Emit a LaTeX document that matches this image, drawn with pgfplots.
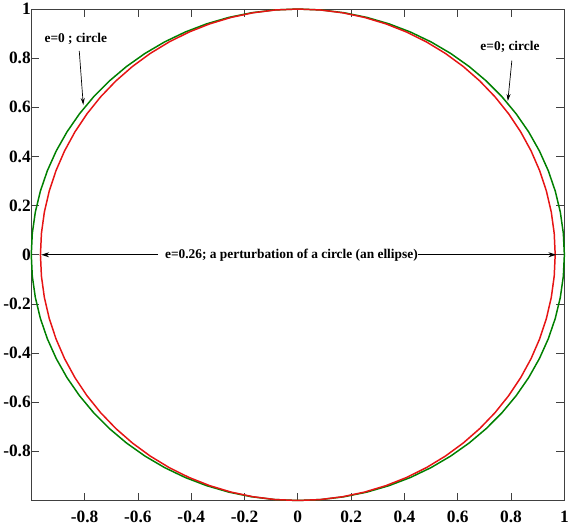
\documentclass[border=0pt]{standalone}
\usepackage{fontspec}
\setmainfont{Liberation Serif}
\usepackage{pgfplots}
\usepackage{pgfplotstable}
\pgfplotsset{compat=1.18}
\usetikzlibrary{arrows.meta}

% circle (cx,cy) and ellipse x (ex), e=0.26, every 5 degrees
\pgfplotstableread{
cx cy ex
1 0 0.9656
0.99619 0.08716 0.96192
0.98481 0.17365 0.95093
0.96593 0.25882 0.93270
0.93969 0.34202 0.90737
0.90631 0.42262 0.87513
0.86603 0.5 0.83624
0.81915 0.57358 0.79097
0.76604 0.64279 0.73969
0.70711 0.70711 0.68279
0.64279 0.76604 0.62068
0.57358 0.81915 0.55385
0.5 0.86603 0.4828
0.42262 0.90631 0.40808
0.34202 0.93969 0.33025
0.25882 0.96593 0.24992
0.17365 0.98481 0.16768
0.08716 0.99619 0.08416
0 1 0
-0.08716 0.99619 -0.08416
-0.17365 0.98481 -0.16768
-0.25882 0.96593 -0.24992
-0.34202 0.93969 -0.33025
-0.42262 0.90631 -0.40808
-0.5 0.86603 -0.4828
-0.57358 0.81915 -0.55385
-0.64279 0.76604 -0.62068
-0.70711 0.70711 -0.68279
-0.76604 0.64279 -0.73969
-0.81915 0.57358 -0.79097
-0.86603 0.5 -0.83624
-0.90631 0.42262 -0.87513
-0.93969 0.34202 -0.90737
-0.96593 0.25882 -0.93270
-0.98481 0.17365 -0.95093
-0.99619 0.08716 -0.96192
-1 0 -0.9656
-0.99619 -0.08716 -0.96192
-0.98481 -0.17365 -0.95093
-0.96593 -0.25882 -0.93270
-0.93969 -0.34202 -0.90737
-0.90631 -0.42262 -0.87513
-0.86603 -0.5 -0.83624
-0.81915 -0.57358 -0.79097
-0.76604 -0.64279 -0.73969
-0.70711 -0.70711 -0.68279
-0.64279 -0.76604 -0.62068
-0.57358 -0.81915 -0.55385
-0.5 -0.86603 -0.4828
-0.42262 -0.90631 -0.40808
-0.34202 -0.93969 -0.33025
-0.25882 -0.96593 -0.24992
-0.17365 -0.98481 -0.16768
-0.08716 -0.99619 -0.08416
0 -1 0
0.08716 -0.99619 0.08416
0.17365 -0.98481 0.16768
0.25882 -0.96593 0.24992
0.34202 -0.93969 0.33025
0.42262 -0.90631 0.40808
0.5 -0.86603 0.4828
0.57358 -0.81915 0.55385
0.64279 -0.76604 0.62068
0.70711 -0.70711 0.68279
0.76604 -0.64279 0.73969
0.81915 -0.57358 0.79097
0.86603 -0.5 0.83624
0.90631 -0.42262 0.87513
0.93969 -0.34202 0.90737
0.96593 -0.25882 0.93270
0.98481 -0.17365 0.95093
0.99619 -0.08716 0.96192
1 0 0.9656
}\orbit

\definecolor{mgreen}{RGB}{0,128,0}
\definecolor{mred}{RGB}{230,20,20}

\begin{document}
\begin{tikzpicture}
\begin{axis}[
    scale only axis,
    width=538pt,
    height=496pt,
    xmin=-1, xmax=1,
    ymin=-1, ymax=1,
    xtick={-0.8,-0.6,...,1},
    ytick={-0.8,-0.6,...,1},
    tick align=inside,
    major tick length=8pt,
    axis line style={black!75, line width=0.9pt},
    every tick/.style={black!75, line width=0.8pt},
    /pgf/number format/assume math mode=true,
    ticklabel style={font=\fontsize{17.5}{20}\selectfont\bfseries},
    xticklabel style={yshift=-7pt},
    yticklabel style={xshift=3pt},
    clip=false,
]
\addplot[mgreen, line width=1.5pt] table[x=cx, y=cy] {\orbit};
\addplot[mred, line width=1.5pt] table[x=ex, y=cy] {\orbit};

\node[font=\fontsize{13.5}{15}\selectfont\bfseries] at (axis cs:-0.833,0.877) {e=0 ; circle};
\draw[-{Stealth[length=7pt,width=4pt]}, line width=0.7pt] (axis cs:-0.82,0.83) -- (axis cs:-0.805,0.61);

\node[font=\fontsize{13.5}{15}\selectfont\bfseries] at (axis cs:0.796,0.845) {e=0; circle};
\draw[-{Stealth[length=7pt,width=4pt]}, line width=0.7pt] (axis cs:0.803,0.79) -- (axis cs:0.788,0.626);

\node[font=\fontsize{13.5}{15}\selectfont\bfseries] at (axis cs:-0.024,0) {e=0.26; a perturbation of a circle (an ellipse)};
\draw[-{Stealth[length=8pt,width=5pt]}, line width=1.2pt] (axis cs:-0.524,0) -- (axis cs:-0.963,0);
\draw[-{Stealth[length=8pt,width=5pt]}, line width=1.2pt] (axis cs:0.45,0) -- (axis cs:0.97,0);
\end{axis}
\end{tikzpicture}
\end{document}
